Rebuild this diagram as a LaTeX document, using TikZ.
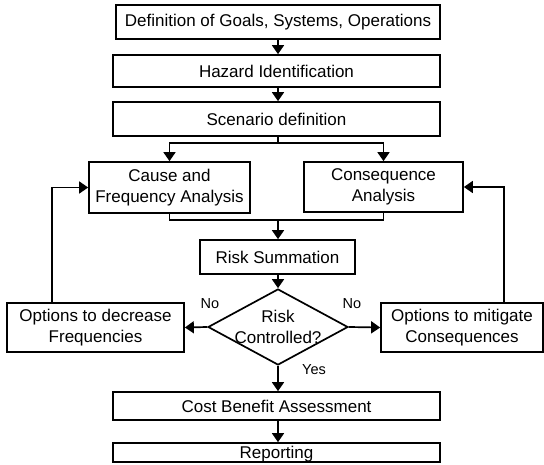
\documentclass[tikz,border=0pt]{standalone}
\usepackage{fontspec}
\setmainfont{Liberation Sans}
\usetikzlibrary{arrows.meta,shapes.geometric}
\begin{document}
\begin{tikzpicture}[x=1pt, y=-1pt, >={Triangle[length=9pt, width=12pt]}, line width=1.7pt]
                \tikzstyle{box}=[rectangle, draw, inner sep=0pt, align=center, font=\fontsize{17}{21.5}\selectfont]
                \tikzstyle{decision}=[diamond, draw, inner sep=0pt, minimum width=140pt, minimum height=76pt]
                \tikzstyle{answer}=[inner sep=0pt, font=\fontsize{14.5}{17}\selectfont]

                \useasboundingbox (0,0) rectangle (544,464);

                \node[box, minimum width=324pt, minimum height=34pt] (goals) at (278, 22) {Definition of Goals, Systems, Operations};
                \node[box, minimum width=327pt, minimum height=32pt] (hazard) at (276.5, 71) {Hazard Identification};
                \node[box, minimum width=327pt, minimum height=34pt] (scen) at (276.5, 119) {Scenario definition};
                \node[box, minimum width=161pt, minimum height=51pt] (cause) at (169.5, 187.5) {Cause and\\Frequency Analysis};
                \node[box, minimum width=159pt, minimum height=50pt] (cons) at (383.5, 187) {Consequence\\Analysis};
                \node[box, minimum width=155pt, minimum height=34pt] (sum) at (277.5, 257) {Risk Summation};
                \node[decision] (dec) at (278, 327) {};
                \node[box, draw=none] (dectext) at (dec) {Risk\\Controlled?};
                \node[box, minimum width=177pt, minimum height=49pt] (optF) at (95.5, 327.5) {Options to decrease\\Frequencies};
                \node[box, minimum width=162pt, minimum height=49pt] (optC) at (462, 327.5) {Options to mitigate\\Consequences};
                \node[box, minimum width=327pt, minimum height=28pt] (cost) at (276.5, 406) {Cost Benefit Assessment};
                \node[box, minimum width=327pt, minimum height=19pt, text height=12.5pt, text depth=1pt] (rep) at (276.5, 452.5) {Reporting};

                \node[answer] (noleft) at (210, 304) {No};
                \node[answer] (noright) at (352, 304) {No};
                \node[answer] (yes) at (314, 370) {Yes};

                \coordinate (split) at (278, 143);
                \coordinate (merge) at (278, 220);

                \draw[->] (goals) -- (goals |- hazard.north);
                \draw[->] (hazard.south -| goals) -- (scen.north -| goals);
                \draw (scen.south -| split) -- (split);
                \draw[->] (split) -| (cause.north);
                \draw[->] (split) -| (cons.north);
                \draw (cause.south) |- (merge) -| (cons.south);
                \draw[->] (merge) -- (sum.north -| merge);
                \draw[->] (sum.south -| dec) -- (dec.north);
                \draw[->] (dec.west) -- (optF.east);
                \draw[->] (dec.east) -- (optC.west);
                \draw[->] ([xshift=-43.5pt]optF.north) |- (cause.west);
                \draw[->] ([xshift=42pt]optC.north) |- (cons.east);
                \draw[->] (dec.south) -- (dec.south |- cost.north);
                \draw[->] (cost.south -| dec) -- (rep.north -| dec);
            \end{tikzpicture}
\end{document}
